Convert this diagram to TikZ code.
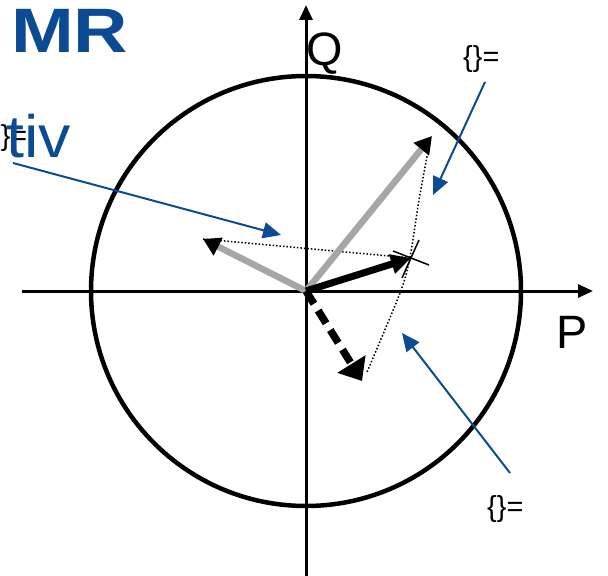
\documentclass[tikz,border=0pt]{standalone}
\usepackage{fontspec}
\setmainfont{Liberation Sans}
\usetikzlibrary{arrows.meta}
\definecolor{mrblue}{RGB}{10,75,148}
\definecolor{vecgray}{RGB}{166,166,166}
\tikzset{
  axis/.style={line width=3bp, -{Triangle[length=15bp,width=13bp]}},
  grayvec/.style={vecgray, line width=6.5bp, -{Triangle[length=17bp,width=19bp,black]}},
  note/.style={mrblue, line width=2bp, -{Triangle[length=18bp,width=16bp]}},
  eqlabel/.style={inner sep=0pt, anchor=base west, font=\fontsize{29}{29}\selectfont}
}
\begin{document}
\begin{tikzpicture}[x=1bp,y=-1bp]
\useasboundingbox (0,0) rectangle (608,576);
\clip (0,0) rectangle (608,576);

% titles, cut off at the edge
\node[inner sep=0pt, anchor=base west, mrblue, font=\fontsize{63}{63}\selectfont\bfseries] (title) at (11,53) {\scalebox{1.2}[1]{MR}};
\node[eqlabel] (lbl1) at (-9,146) {\{\}=};
\node[inner sep=0pt, anchor=base west, mrblue, font=\fontsize{60}{60}\selectfont] (sub) at (6,158) {\scalebox{1.08}[1]{tiv}};

\coordinate (O) at (306,291);
\coordinate (xl) at (22,291);
\coordinate (xr) at (593,291);
\coordinate (yb) at (306,576);
\coordinate (yt) at (306,5);

\draw[line width=4.5bp] (O) circle (215);
\draw[axis] (xl) -- (xr);
\draw[axis] (yb) -- (yt);
\node[inner sep=0pt, anchor=base west, font=\fontsize{47}{47}\selectfont] (Q) at (306,66) {Q};
\node[inner sep=0pt, anchor=base west, font=\fontsize{47}{47}\selectfont] (P) at (556,348) {P};

% phasors
\coordinate (S) at (432,136);
\coordinate (L) at (203,239);
\coordinate (B) at (411,258);
\coordinate (D) at (362,381);

\draw[dotted, line width=1.5bp] (L) -- (B);
\draw[dotted, line width=1.5bp] plot[smooth] coordinates {(429,146) (419,200) (410,257) (400,293) (367,372)};
\draw[grayvec] (O) -- (S);
\draw[grayvec] (O) -- (L);
\draw[line width=7bp, -{Triangle[length=20bp,width=19bp]}] (O) -- (B);
\draw[line width=7.5bp, dash pattern=on 15bp off 8bp, -{Triangle[length=20bp,width=32bp]}] (O) -- (D);
\draw[line width=1.5bp] (393,251) -- (429,265);
\draw[line width=1.5bp] (419,240) -- (402,278);

% remarks
\node[eqlabel] (lbl2) at (463,67) {\{\}=};
\node[eqlabel] (lbl3) at (487,516) {\{\}=};
\coordinate (n1a) at (13,163);
\coordinate (n1b) at (281,235);
\coordinate (n2a) at (485,82);
\coordinate (n2b) at (433,195);
\coordinate (n3a) at (510,473);
\coordinate (n3b) at (402,333);
\draw[note] (n1a) -- (n1b);
\draw[note] (n2a) -- (n2b);
\draw[note] (n3a) -- (n3b);
\end{tikzpicture}
\end{document}
